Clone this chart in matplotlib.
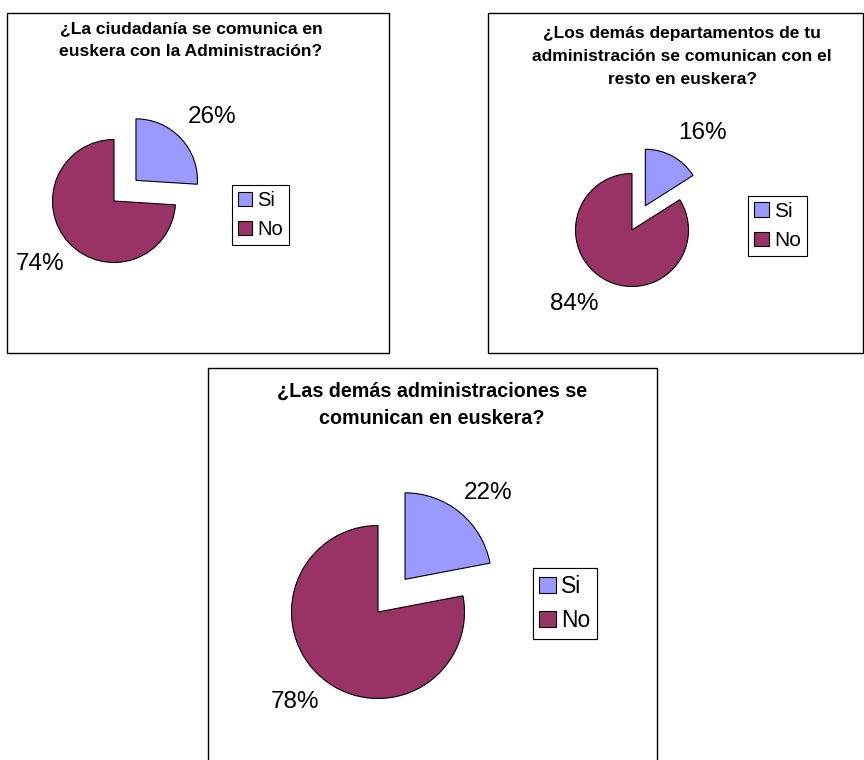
import matplotlib
matplotlib.use("Agg")
import matplotlib.pyplot as plt
from matplotlib.patches import Rectangle, Patch

plt.rcParams['font.family'] = ['Liberation Sans', 'DejaVu Sans']

categories = ["Si", "No"]
titles = [
    "¿La ciudadanía se comunica en\neuskera con la Administración?",
    "¿Los demás departamentos de tu\nadministración se comunican con el\nresto en euskera?",
    "¿Las demás administraciones se\ncomunican en euskera?",
]
values_1 = [26, 74]
values_2 = [16, 84]
values_3 = [22, 78]
colors = ["#9999FF", "#993366"]

W, H = 864, 760
fig = plt.figure(figsize=(W / 100, H / 100), dpi=100)
ax = fig.add_axes([0, 0, 1, 1])


def Y(py):
    return H - py


# layout (pixel coordinates, y from top)
panels = [
    dict(values=values_1, title=titles[0], box=(7, 13, 389, 353), title_xy=(191, 40), title_fs=12.6, title_ls=1.62,
         center=(114, 201), r=61.5, labels_xy=[(212, 117), (40, 264)], leg_xy=(260.5, 215), leg_fs=14.5),
    dict(values=values_2, title=titles[1], box=(488, 13, 863, 353), title_xy=(682, 56.5), title_fs=12.5, title_ls=1.7,
         center=(632, 230), r=56.5, labels_xy=[(702, 133), (574, 304)], leg_xy=(777.5, 226), leg_fs=15),
    dict(values=values_3, title=titles[2], box=(208, 368, 657, 770), title_xy=(432, 405), title_fs=14.2, title_ls=1.56,
         center=(378, 612), r=86.5, labels_xy=[(488, 493), (295, 702)], leg_xy=(565, 603.5), leg_fs=16.5),
]

for p in panels:
    x0, y0, x1, y1 = p["box"]
    ax.add_patch(Rectangle((x0, Y(y1)), x1 - x0, y1 - y0, fill=False, edgecolor="black", lw=1.0))
    ax.text(p["title_xy"][0], Y(p["title_xy"][1]), p["title"],
            ha="center", va="center", fontsize=p["title_fs"], fontweight="bold",
            linespacing=p["title_ls"], color="black")
    cx, cy = p["center"]
    r = p["r"]
    ax.pie(p["values"], colors=colors, startangle=90, counterclock=False,
           explode=[0.49 * r, 0], radius=r, center=(cx, Y(cy)),
           wedgeprops=dict(edgecolor="black", linewidth=0.8), frame=True)
    for v, (lx, ly) in zip(p["values"], p["labels_xy"]):
        ax.text(lx, Y(ly), f"{v}%", ha="center", va="center", fontsize=17.5, color="black")
    handles = [Patch(facecolor=c, edgecolor="black", linewidth=0.8) for c in colors]
    leg = ax.legend(handles, categories, loc="center", bbox_to_anchor=(p["leg_xy"][0], Y(p["leg_xy"][1])),
                    bbox_transform=ax.transData, fontsize=p["leg_fs"], frameon=True, fancybox=False,
                    framealpha=1, edgecolor="black", handlelength=0.7, handleheight=0.7,
                    handletextpad=0.25, borderpad=0.3, labelspacing=0.5, borderaxespad=0)
    leg.get_frame().set_linewidth(0.8)
    ax.add_artist(leg)

ax.set_xlim(0, W)
ax.set_ylim(0, H)
ax.set_aspect("equal")
ax.axis("off")

fig.savefig("out.png", dpi=100)
